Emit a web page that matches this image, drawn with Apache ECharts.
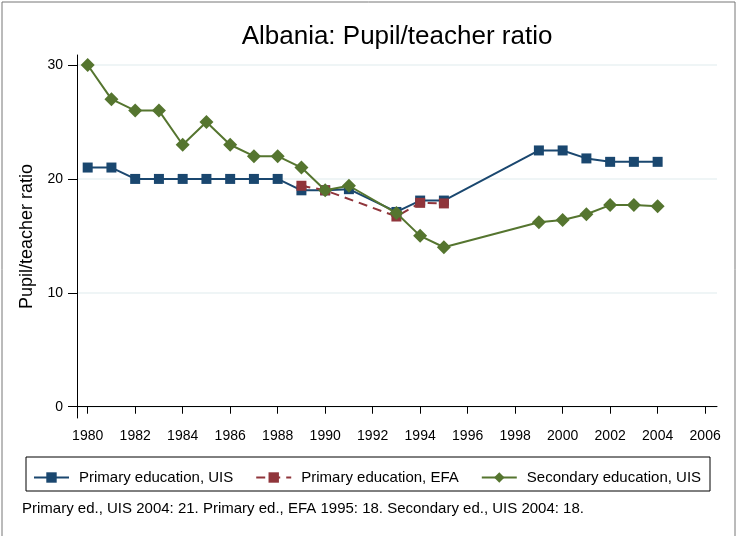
<!DOCTYPE html>
<html>
<head>
<meta charset="utf-8">
<title>Albania: Pupil/teacher ratio</title>
<script src="https://cdn.jsdelivr.net/npm/echarts@6/dist/echarts.min.js"></script>
<style>
    html, body { margin: 0; padding: 0; background: #fff; }
    #main { width: 736px; height: 536px; }
</style>
</head>
<body>
<div id="main"></div>
<script>
// data
var uisYears = [1980, 1981, 1982, 1983, 1984, 1985, 1986, 1987, 1988, 1989, 1990, 1991, 1993, 1994, 1995, 1999, 2000, 2001, 2002, 2003, 2004]
var uisValues = [21.0, 21.0, 20.0, 20.0, 20.0, 20.0, 20.0, 20.0, 20.0, 19.0, 19.0, 19.1, 17.1, 18.1, 18.1, 22.5, 22.5, 21.8, 21.5, 21.5, 21.5]

var efaYears = [1989, 1990, 1993, 1994, 1995]
var efaValues = [19.4, 19.0, 16.7, 17.9, 17.85]

var secYears = [1980, 1981, 1982, 1983, 1984, 1985, 1986, 1987, 1988, 1989, 1990, 1991, 1993, 1994, 1995, 1999, 2000, 2001, 2002, 2003, 2004]
var secValues = [30.0, 27.0, 26.0, 26.0, 23.0, 25.0, 23.0, 22.0, 22.0, 21.0, 19.0, 19.4, 17.0, 15.0, 14.0, 16.2, 16.4, 16.9, 17.7, 17.7, 17.6]

var xTicks = [1980, 1982, 1984, 1986, 1988, 1990, 1992, 1994, 1996, 1998, 2000, 2002, 2004, 2006]
var yTicks = [0, 10, 20, 30]

var seriesNames = ['Primary education, UIS', 'Primary education, EFA', 'Secondary education, UIS']
var chartTitle = 'Albania: Pupil/teacher ratio'
var footnote = 'Primary ed., UIS 2004: 21. Primary ed., EFA 1995: 18. Secondary ed., UIS 2004: 18.'

function pairs(xs, ys) {
    var out = []
    for (var i = 0; i < xs.length; i++) out.push([xs[i], ys[i]])
    return out
}

var font = 'Liberation Sans, Arial, Helvetica, sans-serif'
var myChart = echarts.init(document.getElementById('main'))

var option = {
    backgroundColor: '#fff',
    animation: false,
    textStyle: { fontFamily: font },
    grid: { left: 77, right: 19, top: 55, bottom: 118, outerBoundsMode: 'none' },
    legend: {
        left: 28, top: 465,
        itemWidth: 35, itemHeight: 13, itemGap: 22,
        textStyle: { fontSize: 15, color: '#000', padding: [0, 0, 0, 5] },
        data: seriesNames
    },
    xAxis: {
        type: 'value',
        min: 1979.55, max: 2006.5,
        axisLine: { show: true, lineStyle: { color: '#000', width: 1 } },
        axisTick: { show: true, length: 7, customValues: xTicks, lineStyle: { color: '#000' } },
        axisLabel: {
            customValues: xTicks, fontSize: 14, color: '#000', margin: 11,
            formatter: function (v) { return String(v) }
        },
        splitLine: { show: false }
    },
    yAxis: {
        type: 'value',
        min: -0.99, max: 30.88,
        name: 'Pupil/teacher ratio',
        nameLocation: 'middle',
        nameGap: 37,
        nameTextStyle: { fontSize: 18, color: '#000' },
        axisLine: { show: true, lineStyle: { color: '#000', width: 1 } },
        axisTick: { show: true, length: 9, customValues: yTicks, lineStyle: { color: '#000' } },
        axisLabel: { customValues: yTicks, fontSize: 14, color: '#000', margin: 14 },
        splitLine: { show: true, lineStyle: { color: '#eaf2f3', width: 1.5 } }
    },
    series: [{
        name: seriesNames[0],
        type: 'line',
        data: pairs(uisYears, uisValues),
        symbol: 'rect', symbolSize: 10,
        color: '#1a476f',
        lineStyle: { width: 2, color: '#1a476f' },
        itemStyle: { color: '#1a476f' },
        z: 2
    }, {
        name: seriesNames[1],
        type: 'line',
        data: pairs(efaYears, efaValues),
        symbol: 'rect', symbolSize: 10,
        color: '#90353b',
        lineStyle: { width: 2, color: '#90353b', type: [9, 6] },
        itemStyle: { color: '#90353b' },
        z: 3
    }, {
        name: seriesNames[2],
        type: 'line',
        data: pairs(secYears, secValues),
        symbol: 'diamond', symbolSize: 14,
        color: '#55752f',
        lineStyle: { width: 2, color: '#55752f' },
        itemStyle: { color: '#55752f' },
        z: 4
    }],
    graphic: [{
        // outer frame (no bottom edge in the picture)
        type: 'rect',
        shape: { x: 2, y: 2, width: 733, height: 560 },
        style: { fill: 'none', stroke: '#777', lineWidth: 1 }
    }, {
        type: 'text',
        x: 397, y: 37,
        style: { text: chartTitle, font: '26px ' + font, fill: '#000', align: 'center', verticalAlign: 'middle' }
    }, {
        // legend box
        type: 'rect',
        shape: { x: 26, y: 457, width: 684, height: 34 },
        style: { fill: 'none', stroke: '#000', lineWidth: 1 }
    }, {
        type: 'text',
        x: 22, y: 509,
        style: { text: footnote, font: '15px ' + font, fill: '#000', verticalAlign: 'middle' }
    }]
}

myChart.setOption(option)
</script>
</body>
</html>
